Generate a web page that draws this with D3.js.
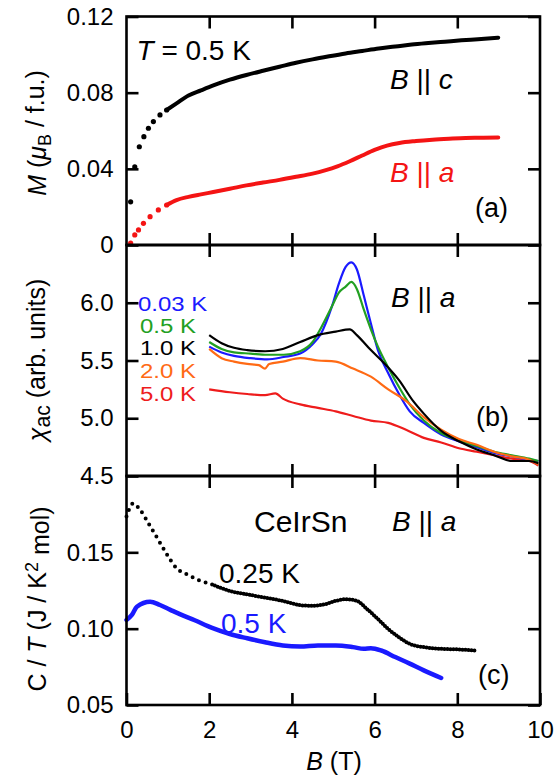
<!DOCTYPE html>
<html><head><meta charset="utf-8">
<script src="https://cdn.jsdelivr.net/npm/d3@7"></script>
<style>
html,body{margin:0;padding:0;background:#fff;}
svg text{font-family:"Liberation Sans",Arial,Helvetica,sans-serif;}
</style></head><body>
<svg id="chart" width="554" height="777"></svg>
<script>
// ---------- data ----------
const xTickValues = [0, 2, 4, 6, 8, 10];
const xInnerTicks = [2, 4, 6, 8];

// panel (a) magnetization, T = 0.5 K
const magC_B = [0.1,0.2,0.31,0.42,0.53,0.65,0.81,0.97,1.21,1.5,1.8,2.1,2.5,2.9,3.3,3.7,4.1,4.5,4.9,5.3,5.7,6.1,6.5,6.9,7.3,7.7,8.1,8.5,8.99];
const magC_M = [0.0227,0.041,0.0516,0.0569,0.0613,0.0648,0.0683,0.0709,0.0744,0.0785,0.0812,0.0838,0.0868,0.0893,0.0915,0.0936,0.0957,0.0975,0.0991,0.1006,0.1019,0.1032,0.1042,0.1053,0.1061,0.1068,0.1075,0.1081,0.1089];
const magA_B = [0.1,0.2,0.29,0.41,0.57,0.77,0.97,1.21,1.5,1.8,2.1,2.5,2.9,3.3,3.7,4.1,4.5,4.8,5.1,5.4,5.7,6.0,6.3,6.6,7.0,7.4,7.8,8.2,8.6,8.99];
const magA_M = [0.001,0.0053,0.0079,0.0114,0.0149,0.0184,0.021,0.0236,0.0253,0.0266,0.0278,0.0295,0.0313,0.0328,0.0342,0.0358,0.0375,0.0392,0.0413,0.044,0.047,0.0499,0.0522,0.0536,0.0546,0.0553,0.0558,0.0562,0.0563,0.0565];
const magTicks = [0, 0.04, 0.08, 0.12];
const magTickLabels = ["0", "0.04", "0.08", "0.12"];

// panel (b) ac susceptibility, B || a
const chiT003_B = [2.0,2.3,2.6,3.0,3.4,3.8,4.2,4.5,4.7,4.97,5.14,5.3,5.44,5.57,5.74,5.91,6.08,6.33,6.59,6.85,7.19,7.61,8.04,8.47,8.89,9.32,9.74,9.96];
const chiT003_V = [5.62,5.57,5.54,5.52,5.51,5.53,5.56,5.64,5.73,5.97,6.17,6.31,6.35,6.29,6.06,5.82,5.59,5.39,5.21,5.06,4.96,4.86,4.80,4.75,4.70,4.67,4.64,4.63];
const chiT05_B = [2.0,2.3,2.6,3.0,3.4,3.8,4.2,4.5,4.7,4.97,5.14,5.3,5.44,5.57,5.74,5.91,6.08,6.33,6.59,6.85,7.19,7.61,8.04,8.47,8.89,9.32,9.74,9.96];
const chiT05_V = [5.66,5.60,5.57,5.56,5.55,5.55,5.58,5.66,5.78,5.97,6.09,6.14,6.18,6.12,5.94,5.77,5.62,5.44,5.27,5.12,4.98,4.87,4.81,4.76,4.71,4.68,4.65,4.63];
const chiT10_B = [2.0,2.3,2.6,2.92,3.35,3.78,4.2,4.63,5.06,5.4,5.57,5.91,6.25,6.59,6.93,7.19,7.61,8.04,8.47,8.89,9.32,9.74,9.96];
const chiT10_V = [5.72,5.65,5.61,5.59,5.58,5.60,5.66,5.72,5.75,5.77,5.72,5.59,5.47,5.33,5.15,5.04,4.89,4.80,4.73,4.68,4.63,4.63,4.61];
const chiT20_B = [2.0,2.3,2.6,2.92,3.2,3.35,3.45,3.78,4.2,4.63,5.06,5.48,5.91,6.33,6.76,7.19,7.61,8.04,8.47,8.89,9.32,9.74,9.96];
const chiT20_V = [5.60,5.52,5.49,5.47,5.46,5.43,5.47,5.49,5.52,5.50,5.49,5.43,5.36,5.25,5.15,5.01,4.90,4.82,4.77,4.71,4.67,4.64,4.60];
const chiT50_B = [2.0,2.5,2.92,3.35,3.6,3.78,4.2,4.63,5.06,5.48,5.91,6.33,6.76,7.19,7.61,8.04,8.47,8.89,9.32,9.74,9.96];
const chiT50_V = [5.25,5.225,5.21,5.20,5.215,5.17,5.12,5.09,5.06,5.02,4.98,4.96,4.90,4.83,4.79,4.74,4.71,4.68,4.65,4.63,4.59];
const chiTicks = [4.5, 5.0, 5.5, 6.0];
const chiTickLabels = ["4.5", "5.0", "5.5", "6.0"];
const chiSeriesLabels = ["0.03 K", "0.5 K", "1.0 K", "2.0 K", "5.0 K"];

// panel (c) specific heat, CeIrSn
const ct025_B = [0.0,0.16,0.33,0.53,0.73,0.97,1.21,1.47,1.73,2.07,2.5,2.92,3.35,3.78,4.2,4.46,4.8,5.06,5.31,5.57,5.82,6.08,6.33,6.59,6.85,7.19,7.61,8.04,8.42];
const ct025_V = [0.1734,0.182,0.1778,0.169,0.160,0.149,0.1396,0.1355,0.1320,0.129,0.1247,0.1225,0.1203,0.1182,0.1154,0.115,0.116,0.1182,0.1193,0.1182,0.1128,0.1063,0.0998,0.0944,0.090,0.0879,0.0868,0.0864,0.0857];
const ct05_B = [0.0,0.13,0.25,0.57,0.81,1.05,1.29,1.65,2.07,2.5,2.92,3.35,3.78,4.2,4.63,5.06,5.48,5.74,5.91,6.16,6.5,6.85,7.19,7.61];
const ct05_V = [0.1057,0.109,0.1144,0.1177,0.1155,0.1125,0.1095,0.1055,0.1005,0.0965,0.0937,0.0911,0.089,0.0883,0.089,0.089,0.0879,0.0868,0.0872,0.0857,0.0814,0.0771,0.0727,0.0677];
const ctTicks = [0.05, 0.10, 0.15];
const ctTickLabels = ["0.05", "0.10", "0.15"];

// ---------- drawing ----------
const svg = d3.select("#chart");
const FONT = '"Liberation Sans",Arial,Helvetica,sans-serif';
const C = {black:"#000", red:"#f41414", blue:"#1a1aff", green:"#22a022", orange:"#ff6a14", red5:"#ee1c1c"};

const x = d3.scaleLinear().domain([0, 10]).range([126.5, 540]);
const yA = d3.scaleLinear().domain([0, 0.12]).range([245, 16.5]);
const yB = d3.scaleLinear().domain([4.5, 6.5]).range([476, 245]);
const yC = d3.scaleLinear().domain([0.05, 0.20]).range([705, 476]);

function zip(a, b) { return a.map((v, i) => [v, b[i]]); }

function panel(y, ticks, labels, bottomLabels) {
  const g = svg.append("g");
  const [yb, yt] = y.range();
  const TL = 12, SW = 2.6;
  const left = g.append("g").attr("transform", `translate(${x(0)},0)`)
    .call(d3.axisLeft(y).tickValues(ticks).tickSize(-TL).tickSizeOuter(0).tickPadding(13)
      .tickFormat((d, i) => labels[i]));
  const right = g.append("g").attr("transform", `translate(${x(10)},0)`)
    .call(d3.axisRight(y).tickValues(ticks).tickSize(-TL).tickSizeOuter(0).tickFormat(""));
  const top = g.append("g").attr("transform", `translate(0,${yt})`)
    .call(d3.axisTop(x).tickValues(xInnerTicks).tickSize(-TL).tickSizeOuter(0).tickFormat(""));
  const bot = g.append("g").attr("transform", `translate(0,${yb})`)
    .call(d3.axisBottom(x).tickValues(bottomLabels ? xTickValues : xInnerTicks).tickSize(-TL).tickSizeOuter(0).tickPadding(16)
      .tickFormat(bottomLabels ? d3.format("d") : ""));
  [left, right, top, bot].forEach(a => {
    a.select(".domain").remove();
    a.selectAll(".tick line").attr("stroke", "#000").attr("stroke-width", SW);
    a.selectAll("text").attr("font-size", 24).attr("font-family", FONT).attr("fill", "#000");
  });
  g.append("rect").attr("x", x(0)).attr("y", yt).attr("width", x(10) - x(0)).attr("height", yb - yt)
    .attr("fill", "none").attr("stroke", "#000").attr("stroke-width", SW);
  return g;
}

const dataLayer = svg.append("g");

// ----- panel a -----
function magSeries(B, M, color) {
  const pts = zip(B, M);
  const line = d3.line().x(d => x(d[0])).y(d => yA(d[1])).curve(d3.curveMonotoneX);
  dataLayer.append("path").datum(pts.filter(d => d[0] >= 0.95))
    .attr("d", line).attr("fill", "none").attr("stroke", color).attr("stroke-width", 4).attr("stroke-linecap", "round");
  dataLayer.append("g").selectAll("circle").data(pts.filter(d => d[0] < 1.0)).join("circle")
    .attr("cx", d => x(d[0])).attr("cy", d => yA(d[1])).attr("r", 2.6).attr("fill", color);
}
magSeries(magC_B, magC_M, C.black);
magSeries(magA_B, magA_M, C.red);

// ----- panel b -----
const chiSeries = [
  [chiT50_B, chiT50_V, C.red5],
  [chiT003_B, chiT003_V, C.blue],
  [chiT05_B, chiT05_V, C.green],
  [chiT20_B, chiT20_V, C.orange],
  [chiT10_B, chiT10_V, C.black]
];
const chiLine = d3.line().x(d => x(d[0])).y(d => yB(d[1])).curve(d3.curveMonotoneX);
chiSeries.forEach(([B, V, col]) => {
  dataLayer.append("path").datum(zip(B, V)).attr("d", chiLine)
    .attr("fill", "none").attr("stroke", col).attr("stroke-width", 2.2).attr("stroke-linejoin", "round");
});

// ----- panel c -----
const ctLine = d3.line().x(d => x(d[0])).y(d => yC(d[1])).curve(d3.curveMonotoneX);
const ct025 = zip(ct025_B, ct025_V);
dataLayer.append("path").datum(ct025.filter(d => d[0] <= 2.1)).attr("d", ctLine)
  .attr("fill", "none").attr("stroke", C.black).attr("stroke-width", 4)
  .attr("stroke-linecap", "round").attr("stroke-dasharray", "0 7");
dataLayer.append("path").datum(ct025.filter(d => d[0] >= 2.0)).attr("d", ctLine)
  .attr("fill", "none").attr("stroke", C.black).attr("stroke-width", 4)
  .attr("stroke-linecap", "round").attr("stroke-dasharray", "0 3");
dataLayer.append("path").datum(ct025.filter(d => d[0] >= 2.0)).attr("d", ctLine)
  .attr("fill", "none").attr("stroke", C.black).attr("stroke-width", 2.2);
const ct05 = zip(ct05_B, ct05_V);
dataLayer.append("path").datum(ct05).attr("d", ctLine)
  .attr("fill", "none").attr("stroke", C.blue).attr("stroke-width", 4.5).attr("stroke-linecap", "round");

// frames and axes
panel(yA, magTicks, magTickLabels, false);
panel(yB, chiTicks, chiTickLabels, false);
panel(yC, ctTicks, ctTickLabels, true);

// ---------- texts ----------
function rich(xp, yp, parts, opts = {}) {
  const t = svg.append("text").attr("x", xp).attr("y", yp)
    .attr("font-size", opts.size || 27).attr("fill", opts.color || "#000")
    .attr("text-anchor", opts.anchor || "start").attr("font-family", FONT);
  if (opts.transform) t.attr("transform", opts.transform);
  parts.forEach(p => {
    const s = t.append("tspan").text(p.t);
    if (p.i) s.attr("font-style", "italic");
    if (p.fs) s.attr("font-size", p.fs);
    if (p.dy) s.attr("dy", p.dy);
  });
  return t;
}
const par = (a, b) => [{t: a, i: true}, {t: " || "}, {t: b, i: true}];

// panel a
rich(136.5, 60, [{t: "T", i: true}, {t: " = 0.5 K"}], {size: 28});
rich(390, 89, par("B", "c"), {size: 28});
rich(390, 182, par("B", "a"), {size: 28, color: C.red});
rich(475, 217, [{t: "(a)"}], {size: 27});
// panel b
rich(391, 307, par("B", "a"), {size: 28});
rich(476, 426, [{t: "(b)"}], {size: 27});
const legCols = [C.blue, C.green, C.black, C.orange, C.red5];
const legX = [138, 140, 140, 140, 140];
const legY = [311, 333, 355, 378, 401];
chiSeriesLabels.forEach((s, i) => rich(0, 0, [{t: s}],
  {size: 19, color: legCols[i], transform: `translate(${legX[i]},${legY[i]}) scale(1.26,1.08)`}));
// panel c
rich(254, 532, [{t: "CeIrSn"}], {size: 30});
rich(392, 531, par("B", "a"), {size: 28});
rich(219, 583, [{t: "0.25 K"}], {size: 28});
rich(221, 633, [{t: "0.5 K"}], {size: 28, color: C.blue});
rich(478, 684, [{t: "(c)"}], {size: 27});

// axis titles
rich(0, 0, [{t: "M", i: true}, {t: " ("}, {t: "μ", i: true}, {t: "B", fs: "0.72em", dy: "0.28em"}, {t: " / f.u.)", dy: "-0.28em"}],
  {size: 25, anchor: "middle", transform: "translate(46,133) rotate(-90)"});
rich(0, 0, [{t: "χ", i: true}, {t: "ac", fs: "0.85em", dy: "0.18em"}, {t: " (arb. units)", dy: "-0.18em"}],
  {size: 25, anchor: "middle", transform: "translate(46,360) rotate(-90)"});
rich(0, 0, [{t: "C / "}, {t: "T", i: true}, {t: " (J / K"}, {t: "2", fs: "0.72em", dy: "-0.45em"}, {t: " mol)", dy: "0.45em"}],
  {size: 25, anchor: "middle", transform: "translate(46,599) rotate(-90)"});
rich(334, 770, [{t: "B", i: true}, {t: " (T)"}], {size: 25, anchor: "middle"});
</script>
</body></html>
